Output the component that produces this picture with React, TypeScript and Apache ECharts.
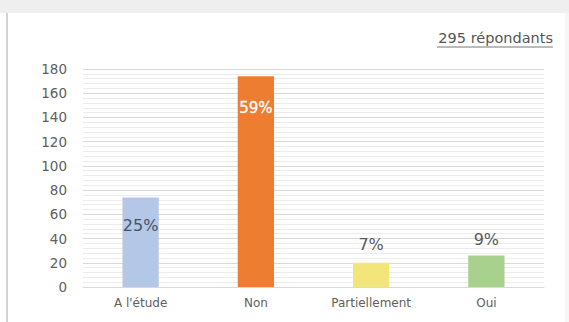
import React, { useEffect, useRef } from "react";
import * as echarts from "echarts";

const categories = ["A l'étude", "Non", "Partiellement", "Oui"];
const values = [74, 174, 20, 26];
const percentLabels = ["25%", "59%", "7%", "9%"];
const barColors = ["#b4c7e7", "#ed7d31", "#f2e67a", "#a9d18e"];
const yTicks = { min: 0, max: 180, interval: 20 };
const respondentsText = "295 répondants";

export default function App() {
  const ref = useRef<HTMLDivElement>(null);
  useEffect(() => {
    if (!ref.current) return;
    const chart = echarts.init(ref.current, null, { renderer: "svg" });
    const labelStyles = [
      { position: "insideTop", distance: 20, color: "#44546a", size: 16, border: 0 },
      { position: "insideTop", distance: 24, color: "#ffffff", size: 15, border: 0.3 },
      { position: "top", distance: 10, color: "#5a5a5a", size: 16, border: 0 },
      { position: "top", distance: 8, color: "#5a5a5a", size: 16, border: 0 },
    ];
    chart.setOption({
      animation: false,
      backgroundColor: "#ffffff",
      textStyle: { fontFamily: "DejaVu Sans" },
      grid: { left: 83, right: 25, top: 69, bottom: 35, containLabel: false },
      xAxis: {
        type: "category",
        data: categories,
        axisLine: { show: true, lineStyle: { color: "#d9d9d9", width: 1 } },
        axisTick: { show: false },
        axisLabel: { color: "#606060", fontSize: 12, margin: 10, fontFamily: "DejaVu Sans" },
      },
      yAxis: {
        type: "value",
        min: yTicks.min,
        max: yTicks.max,
        interval: yTicks.interval,
        axisLine: { show: false },
        axisTick: { show: false },
        axisLabel: { color: "#606060", fontSize: 13.5, margin: 16, fontFamily: "DejaVu Sans" },
        splitLine: { show: true, lineStyle: { color: "#d9d9d9", width: 1 } },
        minorTick: { show: false, splitNumber: 5 },
        minorSplitLine: { show: true, lineStyle: { color: "#ececec", width: 1 } },
      },
      series: [
        {
          type: "bar",
          barWidth: "31.5%",
          data: values.map((v, i) => ({
            value: v,
            itemStyle: { color: barColors[i] },
            label: {
              show: true,
              formatter: percentLabels[i],
              position: labelStyles[i].position,
              distance: labelStyles[i].distance,
              color: labelStyles[i].color,
              textBorderColor: labelStyles[i].color,
              textBorderWidth: labelStyles[i].border,
              fontSize: labelStyles[i].size,
              fontFamily: "DejaVu Sans",
            },
          })),
        },
      ],
      graphic: [
        { type: "rect", shape: { x: 0, y: 0, width: 569, height: 13 }, style: { fill: "#efefef" }, silent: true },
        { type: "rect", shape: { x: 6, y: 13, width: 2, height: 309 }, style: { fill: "#d4d4d4" }, silent: true },
        { type: "rect", shape: { x: 565, y: 13, width: 4, height: 309 }, style: { fill: "#f6f6f6" }, silent: true },
        {
          type: "text",
          x: 553,
          y: 38,
          style: {
            text: respondentsText,
            align: "right",
            verticalAlign: "middle",
            fontSize: 14.5,
            fontFamily: "DejaVu Sans",
            fill: "#555555",
          },
        },
        { type: "line", shape: { x1: 437, y1: 47, x2: 553, y2: 47 }, style: { stroke: "#777777", lineWidth: 1 } },
      ],
    });
    return () => chart.dispose();
  }, []);
  return <div ref={ref} style={{ position: "absolute", left: 0, top: 0, width: 569, height: 322 }} />;
}
